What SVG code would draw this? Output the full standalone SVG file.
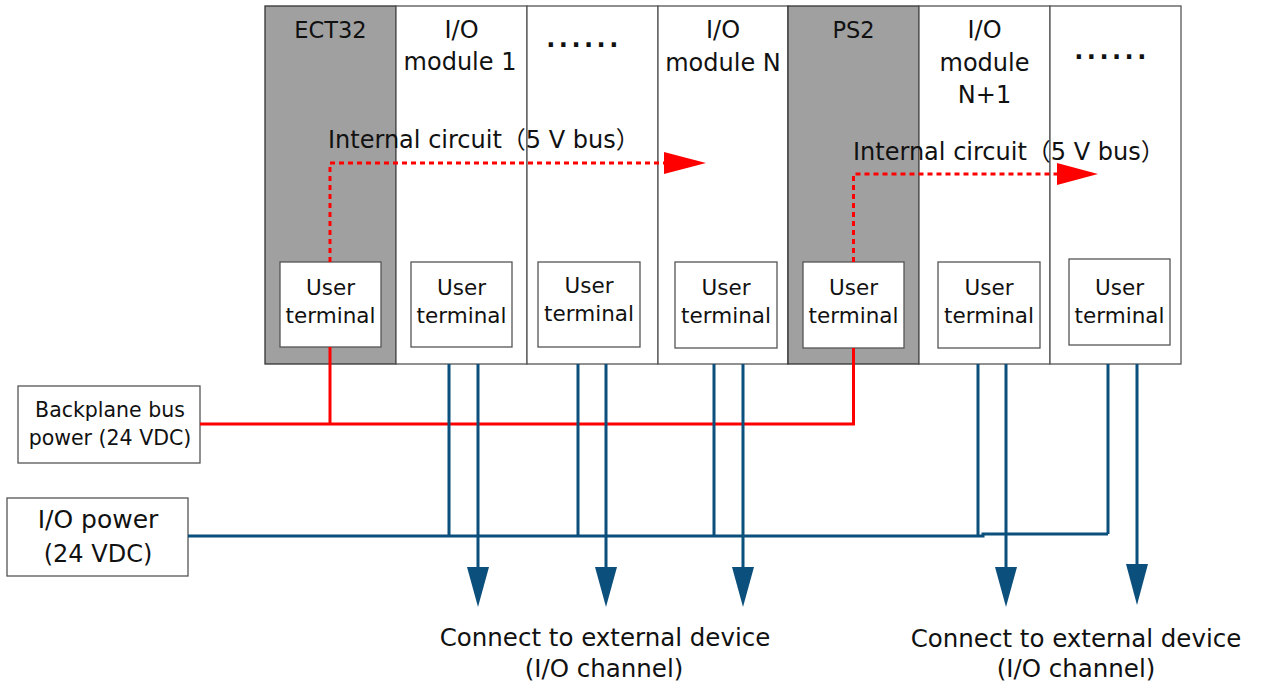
<svg xmlns="http://www.w3.org/2000/svg" width="1262" height="684" viewBox="0 0 1262 684">
<style>
text{font-family:"DejaVu Sans","Noto Sans CJK SC",sans-serif;fill:#111;text-anchor:middle}
.t{font-size:24px}
.u{font-size:21.5px}
.d{font-size:24px;font-weight:bold;letter-spacing:3.5px}
.ic{font-family:"DejaVu Sans","Noto Sans CJK TC",sans-serif;font-size:24px;text-anchor:start}
.col{fill:#fff;stroke:#555;stroke-width:1.3}
.g{fill:#a0a0a0;stroke:#333;stroke-width:1.3}
.box{fill:#fff;stroke:#555;stroke-width:1.3}
.red{fill:none;stroke:#ff0000;stroke-width:3}
.dash{fill:none;stroke:#ff0000;stroke-width:3;stroke-dasharray:5 4}
.blue{fill:none;stroke:#0b4f7c;stroke-width:3}
.ah{fill:#0b4f7c}
.ar{fill:#ff0000}
</style>
<rect width="1262" height="684" fill="#fff"/>
<g id="ect32">
<rect class="g" x="265" y="6" width="131" height="358"/>
<text class="t" x="330.5" y="38" style="font-size:22.5px">ECT32</text>
<rect class="box" x="280" y="262" width="101" height="85"/>
<text class="u" x="330.5" y="295">User</text><text class="u" x="330.5" y="323">terminal</text>
</g>
<g id="io1">
<rect class="col" x="396" y="6" width="131" height="358"/>
<text class="t" x="461.5" y="38">I/O</text><text class="t" x="460" y="70">module 1</text>
<rect class="box" x="411" y="262" width="101" height="85"/>
<text class="u" x="461.5" y="295">User</text><text class="u" x="461.5" y="323">terminal</text>
</g>
<g id="dots1">
<rect class="col" x="527" y="6" width="131" height="358"/>
<text class="d" x="584" y="47">......</text>
<rect class="box" x="538" y="262" width="102" height="85"/>
<text class="u" x="589" y="293">User</text><text class="u" x="589" y="321">terminal</text>
</g>
<g id="ioN">
<rect class="col" x="658" y="6" width="130" height="358"/>
<text class="t" x="723" y="38">I/O</text><text class="t" x="723" y="71">module N</text>
<rect class="box" x="675" y="262" width="102" height="86"/>
<text class="u" x="726" y="295">User</text><text class="u" x="726" y="323">terminal</text>
</g>
<g id="ps2">
<rect class="g" x="788" y="6" width="131" height="358"/>
<text class="t" x="853.5" y="38" style="font-size:22.5px">PS2</text>
<rect class="box" x="803" y="262" width="101" height="86"/>
<text class="u" x="853.5" y="295">User</text><text class="u" x="853.5" y="323">terminal</text>
</g>
<g id="ioN1">
<rect class="col" x="919" y="6" width="131" height="358"/>
<text class="t" x="984.5" y="38">I/O</text><text class="t" x="984.5" y="71">module</text><text class="t" x="984.5" y="103">N+1</text>
<rect class="box" x="938" y="262" width="102" height="86"/>
<text class="u" x="989" y="295">User</text><text class="u" x="989" y="323">terminal</text>
</g>
<g id="dots2">
<rect class="col" x="1050" y="6" width="131" height="358"/>
<text class="d" x="1112" y="59">......</text>
<rect class="box" x="1069" y="259" width="101" height="86"/>
<text class="u" x="1119.5" y="295">User</text><text class="u" x="1119.5" y="323">terminal</text>
</g>
<g id="backplane">
<rect class="box" x="18" y="386" width="182" height="77"/>
<text x="110" y="417" style="font-size:20.5px">Backplane bus</text>
<text x="110" y="445" style="font-size:20.5px">power (24 VDC)</text>
</g>
<g id="iopower">
<rect class="box" x="7" y="498" width="181" height="78"/>
<text class="t" x="98" y="528" style="font-size:25px">I/O power</text>
<text class="t" x="98" y="562">(24 VDC)</text>
</g>
<g id="connectors">
<path class="dash" d="M330 262 V163 H664"/>
<polygon class="ar" points="664,152 706,163 664,174"/>
<path class="dash" d="M853.5 262 V174 H1057"/>
<polygon class="ar" points="1057,163 1098,174 1057,185"/>
<path class="red" d="M330 347 V424"/>
<path class="red" d="M200 424 H853.5 V348"/>
<path class="blue" d="M188 536 H983 V534 H1108"/>
<path class="blue" d="M449 364 V536 M578 364 V536 M714 364 V536 M978 364 V536 M1108 364 V534"/>
<path class="blue" d="M478 364 V572 M606 364 V572 M743 364 V572 M1006 364 V572 M1137 364 V570"/>
<polygon class="ah" points="467,567 489,567 478,607"/>
<polygon class="ah" points="595,567 617,567 606,607"/>
<polygon class="ah" points="732,567 754,567 743,607"/>
<polygon class="ah" points="995,567 1017,567 1006,607"/>
<polygon class="ah" points="1126,564 1148,564 1137,605"/>
</g>
<g id="labels">
<text class="ic" x="328" y="148">Internal circuit（5 V bus）</text>
<text class="ic" x="853" y="160">Internal circuit（5 V bus）</text>
<text class="t" x="605" y="646" style="font-size:24.5px">Connect to external device</text>
<text class="t" x="604" y="677" style="font-size:24.5px">(I/O channel)</text>
<text class="t" x="1076" y="647" style="font-size:24.5px">Connect to external device</text>
<text class="t" x="1076" y="677" style="font-size:24.5px">(I/O channel)</text>
</g>
</svg>
